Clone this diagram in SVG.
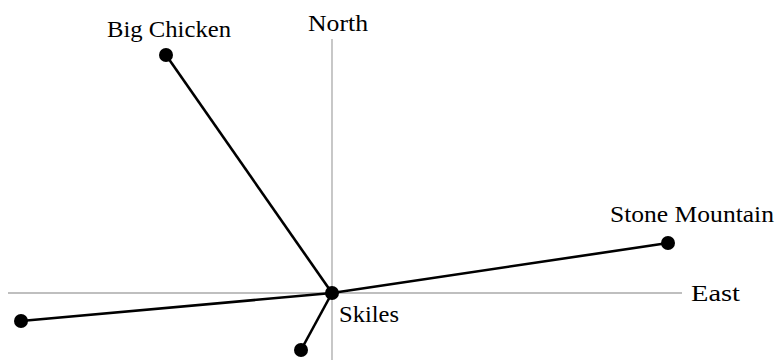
<svg xmlns="http://www.w3.org/2000/svg" width="775" height="360" viewBox="0 0 775 360">
<style>
.ax{stroke:#aaaaaa;stroke-width:1.3;fill:none}
.ln{stroke:#000;stroke-width:2.6;fill:none}
.dot{fill:#000}
text{font-family:"Liberation Serif","DejaVu Serif",serif;font-size:22.5px;fill:#000}
</style>
<rect width="775" height="360" fill="#fff"/>
<g id="axes">
<line class="ax" x1="332" y1="39" x2="332" y2="360"/>
<line class="ax" x1="8" y1="293" x2="682" y2="293"/>
<text x="308" y="30.5" textLength="60" lengthAdjust="spacingAndGlyphs">North</text>
<text x="691" y="301" textLength="49" lengthAdjust="spacingAndGlyphs">East</text>
</g>
<g id="connectors">
<line class="ln" x1="332" y1="293" x2="166" y2="55"/>
<line class="ln" x1="332" y1="293" x2="668" y2="243"/>
<line class="ln" x1="332" y1="293" x2="21" y2="321"/>
<line class="ln" x1="332" y1="293" x2="301" y2="350"/>
</g>
<g id="skiles"><circle class="dot" cx="332" cy="293" r="7"/><text x="339" y="322" textLength="60" lengthAdjust="spacingAndGlyphs">Skiles</text></g>
<g id="big-chicken"><circle class="dot" cx="166" cy="55" r="7"/><text x="107" y="37" textLength="124" lengthAdjust="spacingAndGlyphs">Big Chicken</text></g>
<g id="stone-mountain"><circle class="dot" cx="668" cy="243" r="7"/><text x="610" y="222" textLength="164" lengthAdjust="spacingAndGlyphs">Stone Mountain</text></g>
<g id="west-point"><circle class="dot" cx="21" cy="321" r="7"/></g>
<g id="south-point"><circle class="dot" cx="301" cy="350" r="7"/></g>
</svg>
